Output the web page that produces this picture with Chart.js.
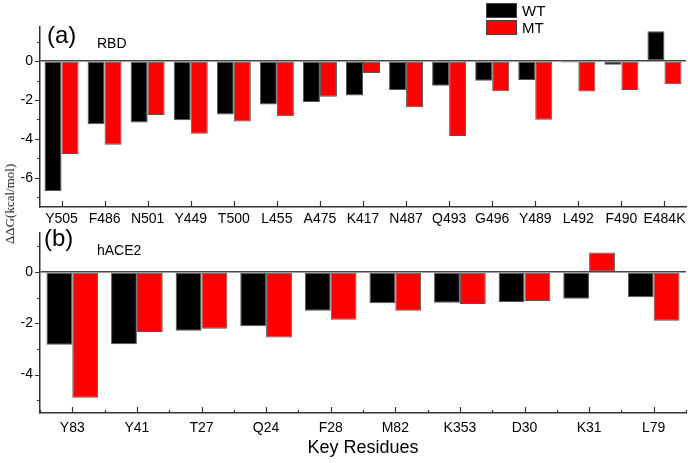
<!DOCTYPE html>
<html>
<head>
<meta charset="utf-8">
<script src="https://cdn.jsdelivr.net/npm/chart.js@4.4.1/dist/chart.umd.min.js"></script>
<style>
  body { margin: 0; background: #fff; }
  #wrap { position: relative; width: 688px; height: 463px; font-family: Arial, "Liberation Sans", sans-serif; }
  .box { position: absolute; left: 0; width: 688px; }
  #boxA { top: 0; height: 232px; }
  #boxB { top: 222px; height: 241px; }
  #ylab { position: absolute; left: 10px; top: 204px; transform: translate(-50%, -50%) rotate(-90deg);
          font-family: "Liberation Serif", "DejaVu Serif", serif; font-size: 13px; white-space: nowrap; color: #111; }
  #legend { position: absolute; left: 486px; top: 2px; font-size: 15px; }
  .item { display: flex; align-items: center; height: 17px; }
  .sw { width: 31px; height: 15px; margin-right: 5px; box-sizing: border-box; border: 1px solid #444; }
</style>
</head>
<body>
<div id="wrap">
  <div class="box" id="boxA"><canvas id="chartA"></canvas></div>
  <div class="box" id="boxB"><canvas id="chartB"></canvas></div>
  <div id="ylab">ΔΔG(kcal/mol)</div>
  <div id="legend"></div>
</div>
<script>
// panel (a) RBD
const rbdResidues = ['Y505', 'F486', 'N501', 'Y449', 'T500', 'L455', 'A475', 'K417', 'N487', 'Q493', 'G496', 'Y489', 'L492', 'F490', 'E484K'];
const rbdWT = [-6.68, -3.25, -3.16, -3.04, -2.75, -2.23, -2.10, -1.77, -1.49, -1.27, -1.01, -0.98, -0.08, -0.19, 1.53];
const rbdMT = [-4.78, -4.30, -2.77, -3.73, -3.11, -2.84, -1.84, -0.62, -2.37, -3.85, -1.55, -3.02, -1.56, -1.49, -1.19];

// panel (b) hACE2
const aceResidues = ['Y83', 'Y41', 'T27', 'Q24', 'F28', 'M82', 'K353', 'D30', 'K31', 'L79'];
const aceWT = [-2.84, -2.82, -2.29, -2.12, -1.51, -1.22, -1.20, -1.17, -1.04, -0.99];
const aceMT = [-4.91, -2.34, -2.21, -2.56, -1.86, -1.51, -1.25, -1.13, 0.76, -1.90];

const seriesNames = ['WT', 'MT'];
const seriesColors = ['#000000', '#ff0000'];

const rbdTicks = [-7, -6, -5, -4, -3, -2, -1, 0, 1];
const aceTicks = [-5, -4, -3, -2, -1, 0, 1];

const FONT = 'Arial, "Liberation Sans", sans-serif';
const AXIS = '#333';

// legend
const legendEl = document.getElementById('legend');
legendEl.innerHTML = seriesNames.map((n, i) =>
    `<div class="item"><span class="sw" style="background:${seriesColors[i]}"></span>${n}</div>`).join('');

// draws inward x ticks, outward y ticks and the panel labels
const decor = {
    id: 'decor',
    afterDraw(chart, args, opts) {
        const ctx = chart.ctx;
        const x = chart.scales.x, y = chart.scales.y;
        const area = chart.chartArea;
        ctx.save();
        ctx.strokeStyle = AXIS;
        ctx.lineWidth = 1.2;
        ctx.beginPath();
        const n = chart.data.labels.length;
        for (let i = 0; i < n; i++) {
            const px = Math.round(x.getPixelForValue(i)) + 0.5;
            ctx.moveTo(px, area.bottom);
            ctx.lineTo(px, area.bottom - 6);
        }
        if (opts.minorX) {
            const step = (area.right - area.left) / n;
            for (let i = 0; i <= n; i++) {
                const px = Math.round(area.left + step * i) + 0.5;
                ctx.moveTo(px, area.bottom);
                ctx.lineTo(px, area.bottom - 3);
            }
        }
        y.ticks.forEach(t => {
            const py = Math.round(y.getPixelForValue(t.value)) + 0.5;
            const len = t.value % 2 === 0 ? 5 : 3;
            ctx.moveTo(area.left, py);
            ctx.lineTo(area.left - len, py);
        });
        ctx.stroke();
        ctx.fillStyle = '#000';
        ctx.textBaseline = 'middle';
        ctx.font = '24px ' + FONT;
        ctx.fillText(opts.panel, opts.px, opts.py);
        ctx.font = '14px ' + FONT;
        ctx.fillText(opts.name, opts.nx, opts.ny);
        ctx.restore();
    }
};

// stop tick labels from pushing the plot area around
function noPad(s) {
    s.paddingTop = 0;
    s.paddingBottom = 0;
    s.paddingLeft = 0;
    s.paddingRight = 0;
}

function makeChart(id, labels, wt, mt, tickVals, min, max, padTop, xHeight, pct, extra) {
    return new Chart(document.getElementById(id), {
        type: 'bar',
        data: {
            labels: labels,
            datasets: [wt, mt].map((d, i) => ({
                label: seriesNames[i],
                data: d,
                backgroundColor: seriesColors[i],
                borderColor: '#555',
                borderWidth: 1,
                borderSkipped: false,
                categoryPercentage: pct,
                barPercentage: 1
            }))
        },
        options: {
            responsive: true,
            maintainAspectRatio: false,
            animation: false,
            layout: { padding: { top: padTop, right: 2, left: 0, bottom: 0 } },
            plugins: {
                legend: { display: false },
                tooltip: { enabled: false },
                decor: extra
            },
            scales: {
                x: {
                    grid: { display: false, drawTicks: false },
                    border: { display: true, color: AXIS, width: 1.5 },
                    ticks: { color: '#000', font: { size: 14, family: FONT }, padding: extra.xPad, maxRotation: 0, autoSkip: false },
                    title: extra.xTitle ? { display: true, text: extra.xTitle, color: '#000', font: { size: 18, family: FONT }, padding: { top: 4 } } : { display: false },
                    afterFit: s => { s.height = xHeight; noPad(s); }
                },
                y: {
                    min: min,
                    max: max,
                    afterBuildTicks: s => { s.ticks = tickVals.map(v => ({ value: v })); },
                    grid: {
                        drawTicks: false,
                        lineWidth: 1.5,
                        color: c => c.tick && c.tick.value === 0 ? '#444' : 'rgba(0,0,0,0)'
                    },
                    border: { display: true, color: AXIS, width: 1.5 },
                    ticks: {
                        color: '#000',
                        font: { size: 14, family: FONT },
                        padding: 7,
                        callback: v => v % 2 === 0 ? String(v) : ''
                    },
                    afterFit: s => { s.width = 40; noPad(s); }
                }
            }
        },
        plugins: [decor]
    });
}

makeChart('chartA', rbdResidues, rbdWT, rbdMT, rbdTicks, -7.5, 1.75, 27, 25, 0.79,
    { panel: '(a)', px: 47, py: 36, name: 'RBD', nx: 97, ny: 44, minorX: false, xPad: 4 });
makeChart('chartB', aceResidues, aceWT, aceMT, aceTicks, -5.5, 1.52, 11, 50, 0.80,
    { panel: '(b)', px: 44, py: 17, name: 'hACE2', nx: 97, ny: 29, minorX: true, xPad: 7, xTitle: 'Key Residues' });
</script>
</body>
</html>
